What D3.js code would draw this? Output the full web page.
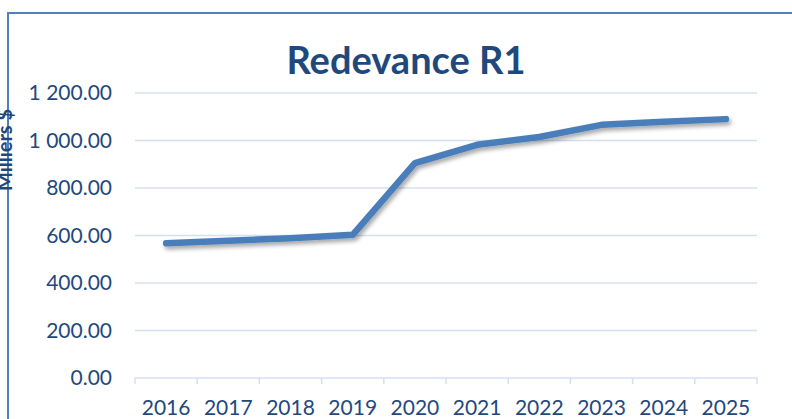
<!DOCTYPE html>
<html>
<head>
<meta charset="utf-8">
<script src="https://cdn.jsdelivr.net/npm/d3@7"></script>
<style>
  body { margin: 0; background: #fff; }
  svg { display: block; font-family: Lato, "Open Sans", sans-serif; }
</style>
</head>
<body>
<svg width="792" height="419"></svg>
<script>
var years = ['2016', '2017', '2018', '2019', '2020', '2021', '2022', '2023', '2024', '2025'];
var redevance = [567, 578, 588, 603, 905, 982, 1015, 1066, 1079, 1090];
var yTicks = [0, 200, 400, 600, 800, 1000, 1200];

var svg = d3.select('svg');
var plotLeft = 135, plotRight = 757, plotTop = 93, plotBottom = 378;
var textColor = '#1f497d',
  gridColor = '#d4e0f0',
  lineColor = '#4a7ebb';

var x = d3.scaleBand().domain(years).range([plotLeft, plotRight]);
var y = d3.scaleLinear().domain([0, 1200]).range([plotBottom, plotTop]);

// outer frame
svg.append('rect')
  .attr('x', 8).attr('y', 13)
  .attr('width', 800).attr('height', 430)
  .attr('fill', 'none')
  .attr('stroke', '#4f81bd')
  .attr('stroke-width', 2);

var defs = svg.append('defs');
var filter = defs.append('filter').attr('id', 'shadow')
  .attr('x', '-10%').attr('y', '-20%').attr('width', '130%').attr('height', '160%');
filter.append('feDropShadow')
  .attr('dx', 2).attr('dy', 3)
  .attr('stdDeviation', 2)
  .attr('flood-color', '#000')
  .attr('flood-opacity', 0.35);

// gridlines
svg.append('g')
  .selectAll('line')
  .data(yTicks.slice(1))
  .join('line')
  .attr('x1', plotLeft).attr('x2', plotRight)
  .attr('y1', function(d) { return y(d); })
  .attr('y2', function(d) { return y(d); })
  .attr('stroke', gridColor)
  .attr('stroke-width', 1.5);

// y axis labels
var fmt = function(d) {
  return d3.format(',.2f')(d).replace(/,/g, ' ');
};
svg.append('g')
  .selectAll('text')
  .data(yTicks)
  .join('text')
  .attr('x', 112)
  .attr('y', function(d) { return y(d); })
  .attr('dy', '0.35em')
  .attr('text-anchor', 'end')
  .attr('fill', textColor)
  .style('font-size', '21px')
  .text(fmt);

// x axis
var xAxis = d3.axisBottom(x).tickSize(0);
var gx = svg.append('g')
  .attr('transform', 'translate(0,' + plotBottom + ')')
  .call(xAxis);
gx.select('.domain').remove();
gx.append('line')
  .attr('x1', plotLeft).attr('x2', plotRight)
  .attr('stroke', gridColor).attr('stroke-width', 1.5);
gx.selectAll('.bnd')
  .data(years.concat(['end']))
  .join('line')
  .attr('class', 'bnd')
  .attr('x1', function(d, i) { return plotLeft + i * x.step(); })
  .attr('x2', function(d, i) { return plotLeft + i * x.step(); })
  .attr('y1', 0).attr('y2', 6)
  .attr('stroke', gridColor).attr('stroke-width', 1.5);
gx.selectAll('.tick text')
  .attr('y', 37)
  .attr('dy', 0)
  .attr('fill', textColor)
  .style('font-size', '21px')
  .style('font-family', 'Lato, "Open Sans", sans-serif');

// line
var line = d3.line()
  .x(function(d, i) { return x(years[i]) + x.bandwidth() / 2; })
  .y(function(d) { return y(d); });

svg.append('path')
  .datum(redevance)
  .attr('d', line)
  .attr('fill', 'none')
  .attr('stroke', lineColor)
  .attr('stroke-width', 6.5)
  .attr('stroke-linecap', 'round')
  .attr('stroke-linejoin', 'round')
  .attr('filter', 'url(#shadow)');

// title
svg.append('text')
  .attr('x', 406).attr('y', 74)
  .attr('text-anchor', 'middle')
  .attr('fill', textColor)
  .style('font-size', '38px')
  .style('font-weight', 'bold')
  .text('Redevance R1');

// y axis title (mostly cut off by the frame edge)
svg.append('text')
  .attr('transform', 'translate(12,150) rotate(-90)')
  .attr('text-anchor', 'middle')
  .attr('fill', textColor)
  .style('font-size', '20px')
  .style('font-weight', 'bold')
  .text('Milliers $');
</script>
</body>
</html>
